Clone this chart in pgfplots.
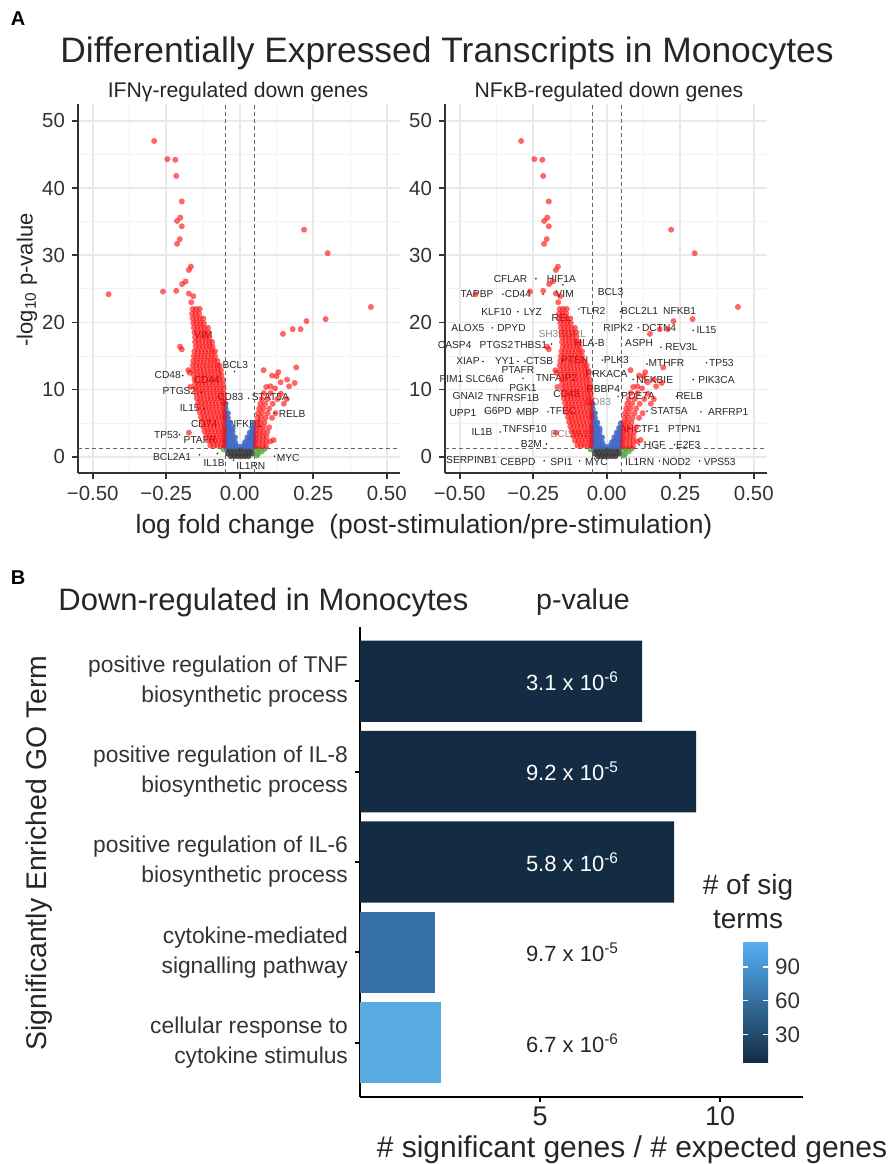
\documentclass[border=0pt]{standalone}
\usepackage{fontspec}
\setmainfont{Liberation Sans}
\usepackage{pgfplots}
\usepackage{pgfplotstable}
\pgfplotsset{compat=1.18}

\definecolor{ptred}{RGB}{255,0,0}
\definecolor{ptblue}{RGB}{65,105,200}
\definecolor{ptgray}{RGB}{60,60,60}
\definecolor{ptgreen}{RGB}{90,170,70}
\definecolor{barlow}{RGB}{19,43,67}
\definecolor{barmid}{RGB}{52,112,165}
\definecolor{barhigh}{RGB}{90,170,226}

% significant, down/up (red)
\pgfplotstableread[row sep=\\]{
x y\\
-0.291 47.0\\ -0.246 44.3\\ -0.219 44.2\\ -0.216 41.8\\ -0.197 38.0\\
-0.202 35.6\\ -0.213 35.1\\ -0.197 34.3\\ -0.204 32.4\\ -0.213 31.7\\
-0.166 28.3\\ -0.173 27.8\\ -0.184 26.1\\ -0.196 25.7\\ -0.216 24.7\\
-0.261 24.6\\ -0.446 24.2\\ -0.173 24.3\\ -0.158 23.9\\ -0.165 23.0\\
-0.203 16.4\\ -0.197 16.0\\ -0.175 12.9\\ -0.170 12.5\\ -0.173 3.6\\ -0.168 10.4\\
-0.160 22.0\\ -0.148 22.0\\ -0.136 22.0\\
-0.162 21.3\\ -0.150 21.3\\ -0.138 21.3\\
-0.160 20.6\\ -0.148 20.6\\ -0.136 20.6\\ -0.124 20.6\\
-0.158 19.9\\ -0.146 19.9\\ -0.134 19.9\\ -0.122 19.9\\
-0.156 19.2\\ -0.144 19.2\\ -0.132 19.2\\ -0.120 19.2\\ -0.108 19.2\\
-0.154 18.5\\ -0.142 18.5\\ -0.130 18.5\\ -0.118 18.5\\ -0.106 18.5\\
-0.152 17.8\\ -0.140 17.8\\ -0.128 17.8\\ -0.116 17.8\\ -0.104 17.8\\
-0.152 17.1\\ -0.140 17.1\\ -0.128 17.1\\ -0.116 17.1\\ -0.104 17.1\\ -0.094 17.1\\
-0.150 16.4\\ -0.138 16.4\\ -0.126 16.4\\ -0.114 16.4\\ -0.102 16.4\\ -0.092 16.4\\
-0.154 15.7\\ -0.142 15.7\\ -0.130 15.7\\ -0.118 15.7\\ -0.106 15.7\\ -0.094 15.7\\ -0.084 15.7\\
-0.156 15.0\\ -0.144 15.0\\ -0.132 15.0\\ -0.120 15.0\\ -0.108 15.0\\ -0.096 15.0\\ -0.084 15.0\\
-0.158 14.3\\ -0.146 14.3\\ -0.134 14.3\\ -0.122 14.3\\ -0.110 14.3\\ -0.098 14.3\\ -0.086 14.3\\ -0.076 14.3\\
-0.160 13.6\\ -0.148 13.6\\ -0.136 13.6\\ -0.124 13.6\\ -0.112 13.6\\ -0.100 13.6\\ -0.088 13.6\\ -0.076 13.6\\ -0.068 13.6\\
-0.158 12.9\\ -0.146 12.9\\ -0.134 12.9\\ -0.122 12.9\\ -0.110 12.9\\ -0.098 12.9\\ -0.086 12.9\\ -0.074 12.9\\ -0.064 12.9\\
-0.156 12.2\\ -0.144 12.2\\ -0.132 12.2\\ -0.120 12.2\\ -0.108 12.2\\ -0.096 12.2\\ -0.084 12.2\\ -0.072 12.2\\ -0.062 12.2\\
-0.154 11.5\\ -0.142 11.5\\ -0.130 11.5\\ -0.118 11.5\\ -0.106 11.5\\ -0.094 11.5\\ -0.082 11.5\\ -0.070 11.5\\ -0.058 11.5\\
-0.152 10.8\\ -0.140 10.8\\ -0.128 10.8\\ -0.116 10.8\\ -0.104 10.8\\ -0.092 10.8\\ -0.080 10.8\\ -0.068 10.8\\ -0.056 10.8\\
-0.150 10.1\\ -0.138 10.1\\ -0.126 10.1\\ -0.114 10.1\\ -0.102 10.1\\ -0.090 10.1\\ -0.078 10.1\\ -0.066 10.1\\ -0.055 10.1\\
-0.148 9.4\\ -0.136 9.4\\ -0.124 9.4\\ -0.112 9.4\\ -0.100 9.4\\ -0.088 9.4\\ -0.076 9.4\\ -0.064 9.4\\ -0.054 9.4\\
-0.146 8.7\\ -0.134 8.7\\ -0.122 8.7\\ -0.110 8.7\\ -0.098 8.7\\ -0.086 8.7\\ -0.074 8.7\\ -0.062 8.7\\ -0.053 8.7\\
-0.142 8.0\\ -0.130 8.0\\ -0.118 8.0\\ -0.106 8.0\\ -0.094 8.0\\ -0.082 8.0\\ -0.070 8.0\\ -0.058 8.0\\ -0.052 8.0\\
-0.140 7.3\\ -0.128 7.3\\ -0.116 7.3\\ -0.104 7.3\\ -0.092 7.3\\ -0.080 7.3\\ -0.068 7.3\\ -0.056 7.3\\
-0.136 6.6\\ -0.124 6.6\\ -0.112 6.6\\ -0.100 6.6\\ -0.088 6.6\\ -0.076 6.6\\ -0.064 6.6\\ -0.053 6.6\\
-0.132 5.9\\ -0.120 5.9\\ -0.108 5.9\\ -0.096 5.9\\ -0.084 5.9\\ -0.072 5.9\\ -0.060 5.9\\ -0.052 5.9\\
-0.128 5.2\\ -0.116 5.2\\ -0.104 5.2\\ -0.092 5.2\\ -0.080 5.2\\ -0.068 5.2\\ -0.056 5.2\\
-0.124 4.5\\ -0.112 4.5\\ -0.100 4.5\\ -0.088 4.5\\ -0.076 4.5\\ -0.064 4.5\\ -0.053 4.5\\
-0.120 3.8\\ -0.108 3.8\\ -0.096 3.8\\ -0.084 3.8\\ -0.072 3.8\\ -0.060 3.8\\ -0.052 3.8\\
-0.114 3.1\\ -0.102 3.1\\ -0.090 3.1\\ -0.078 3.1\\ -0.066 3.1\\ -0.055 3.1\\
-0.108 2.4\\ -0.096 2.4\\ -0.084 2.4\\ -0.072 2.4\\ -0.060 2.4\\ -0.052 2.4\\
-0.100 1.7\\ -0.088 1.7\\ -0.076 1.7\\ -0.064 1.7\\ -0.054 1.7\\
0.219 33.8\\ 0.299 30.3\\ 0.446 22.3\\ 0.292 20.5\\ 0.227 20.2\\
0.207 19.0\\ 0.180 19.0\\ 0.147 18.3\\ 0.192 13.3\\ 0.081 12.9\\
0.131 12.6\\ 0.110 12.1\\ 0.125 12.0\\ 0.161 11.5\\ 0.139 11.1\\ 0.187 11.0\\
0.168 10.5\\ 0.104 10.5\\ 0.090 10.4\\ 0.120 10.2\\ 0.115 2.5\\
0.082 9.5\\ 0.105 9.5\\ 0.140 9.4\\
0.075 8.6\\ 0.095 8.6\\ 0.128 8.6\\ 0.160 8.6\\
0.070 7.9\\ 0.086 7.9\\ 0.112 7.9\\ 0.150 7.9\\
0.066 7.2\\ 0.080 7.2\\ 0.100 7.2\\
0.062 6.5\\ 0.076 6.5\\ 0.095 6.5\\ 0.122 6.5\\
0.060 5.8\\ 0.072 5.8\\ 0.088 5.8\\ 0.110 5.8\\
0.058 5.1\\ 0.070 5.1\\ 0.084 5.1\\
0.057 4.4\\ 0.069 4.4\\ 0.081 4.4\\ 0.100 4.4\\
0.056 3.7\\ 0.068 3.7\\ 0.080 3.7\\ 0.094 3.7\\
0.055 3.0\\ 0.067 3.0\\ 0.079 3.0\\ 0.091 3.0\\
0.054 2.3\\ 0.066 2.3\\ 0.078 2.3\\ 0.090 2.3\\ 0.104 2.3\\
0.054 1.6\\ 0.066 1.6\\ 0.078 1.6\\ 0.090 1.6\\
}\redpts

% significant p, small fold change (blue)
\pgfplotstableread[row sep=\\]{
x y\\
-0.048 1.6\\ -0.048 2.3\\ -0.048 3.0\\ -0.048 3.7\\ -0.048 4.4\\ -0.048 5.1\\ -0.048 5.8\\ -0.048 6.5\\ -0.048 7.2\\ -0.048 7.9\\
-0.040 1.6\\ -0.040 2.3\\ -0.040 3.0\\ -0.040 3.7\\ -0.040 4.4\\ -0.040 5.1\\ -0.040 5.8\\ -0.040 6.5\\
-0.032 1.6\\ -0.032 2.3\\ -0.032 3.0\\ -0.032 3.7\\ -0.032 4.4\\ -0.032 5.1\\
-0.024 1.6\\ -0.024 2.3\\ -0.024 3.0\\ -0.024 3.7\\ -0.024 4.2\\
-0.016 1.6\\ -0.016 2.2\\ -0.016 2.9\\
-0.008 1.6\\ 0.010 1.6\\
0.018 1.6\\ 0.018 2.2\\
0.026 1.6\\ 0.026 2.3\\ 0.026 2.9\\
0.034 1.6\\ 0.034 2.3\\ 0.034 3.0\\ 0.034 3.6\\
0.042 1.6\\ 0.042 2.3\\ 0.042 3.0\\ 0.042 3.7\\ 0.042 4.3\\
0.048 1.6\\ 0.048 2.3\\ 0.048 3.0\\ 0.048 3.7\\ 0.048 4.4\\ 0.048 5.0\\
}\bluepts

% not significant (gray)
\pgfplotstableread[row sep=\\]{
x y\\
-0.044 1.1\\ -0.032 1.1\\ -0.020 1.1\\ -0.008 1.1\\ 0.004 1.1\\ 0.016 1.1\\ 0.028 1.1\\ 0.040 1.1\\
-0.040 0.5\\ -0.028 0.5\\ -0.016 0.5\\ -0.004 0.5\\ 0.008 0.5\\ 0.020 0.5\\ 0.032 0.5\\ 0.044 0.5\\
-0.030 0.1\\ -0.018 0.1\\ -0.006 0.1\\ 0.006 0.1\\ 0.018 0.1\\ 0.030 0.1\\
}\graypts

% large fold change, not significant (green)
\pgfplotstableread[row sep=\\]{
x y\\
0.056 1.0\\ 0.066 1.1\\ 0.075 0.8\\ 0.062 0.4\\ -0.055 1.1\\ 0.085 1.2\\ 0.058 0.2\\
}\greenpts

% labelled genes, left panel
\pgfplotstableread[row sep=\\]{
x y\\
-0.018 12.7\\ -0.194 12.1\\ -0.131 9.6\\ 0.030 8.7\\ -0.121 7.2\\ 0.118 6.5\\
-0.205 3.3\\ -0.137 0.3\\ -0.076 0.5\\ -0.021 -0.5\\ 0.118 0.1\\
}\dotsA

% labelled genes, right panel
\pgfplotstableread[row sep=\\]{
x y\\
-0.241 26.5\\ -0.149 25.6\\ -0.353 24.2\\ -0.217 24.2\\ -0.302 21.6\\ -0.094 22.0\\
0.047 21.6\\ -0.389 19.2\\ 0.108 19.2\\ 0.294 18.8\\ -0.188 16.8\\ 0.184 16.3\\
-0.421 14.2\\ -0.302 14.2\\ -0.279 14.2\\ -0.149 14.4\\ -0.015 14.4\\ 0.137 13.8\\
0.339 14.0\\ -0.285 11.7\\ 0.090 11.5\\ 0.294 11.5\\ -0.398 9.0\\ 0.039 9.0\\
0.237 9.0\\ -0.412 6.8\\ -0.305 6.7\\ -0.200 6.7\\ 0.137 6.8\\ 0.320 6.7\\
-0.362 3.7\\ -0.205 1.9\\ 0.110 1.8\\ 0.231 1.8\\ -0.213 -0.6\\ -0.092 -0.6\\
0.180 -0.6\\ 0.316 -0.6\\
}\dotsB

\pgfplotsset{
  volcano/.style={
    scale only axis, width=161pt, height=184.5pt,
    xmin=-0.55, xmax=0.545, ymin=-2.4, ymax=52.5,
    axis lines*=left, axis line style={line width=0.9pt, black!80, -},
    xtick={-0.5,-0.25,0,0.25,0.5},
    xticklabels={−0.50,−0.25,0.00,0.25,0.50},
    ytick={0,10,20,30,40,50},
    yticklabels={0,10,20,30,40,50},
    minor xtick={-0.375,-0.125,0.125,0.375},
    minor ytick={5,15,25,35,45},
    grid=both,
    major grid style={draw=black!9, line width=0.8pt},
    minor grid style={draw=black!5, line width=0.45pt},
    tick align=outside, major tick length=3pt, minor tick length=0pt,
    tick style={black!80, line width=0.8pt},
    tick label style={font=\fontsize{10.2}{12}\selectfont, text=black!80},
    clip=false,
  },
  red pts/.style={only marks, mark=*, mark size=1.5pt, color=ptred,
    mark options={fill opacity=0.6, draw opacity=0}},
  blue pts/.style={only marks, mark=*, mark size=1.5pt, color=ptblue,
    mark options={fill opacity=0.85, draw opacity=0}},
  gray pts/.style={only marks, mark=*, mark size=1.5pt, color=ptgray,
    mark options={fill opacity=0.85, draw opacity=0}},
  green pts/.style={only marks, mark=*, mark size=1.5pt, color=ptgreen,
    mark options={fill opacity=0.8, draw opacity=0}},
  lab dots/.style={only marks, mark=*, mark size=0.45pt, color=black!85,
    mark options={draw opacity=0}},
  cut/.style={black!60, line width=0.5pt, dash pattern=on 2pt off 1.5pt},
}
\tikzset{lab/.style={font=\fontsize{5.1}{6}\selectfont, text=black!85, inner sep=0pt},
  glab/.style={lab, text=black!45}}

\begin{document}
\begin{tikzpicture}
\useasboundingbox (0,0) rectangle (445pt,582pt);

% ---------- A, left volcano ----------
\begin{axis}[volcano, at={(39pt,345.5pt)}, anchor=south west]
\addplot[gray pts] table {\graypts};
\addplot[green pts] table {\greenpts};
\addplot[blue pts] table {\bluepts};
\addplot[red pts] table {\redpts};
\addplot[cut] coordinates {(-0.05,-2.4) (-0.05,52.5)};
\addplot[cut] coordinates {(0.05,-2.4) (0.05,52.5)};
\addplot[cut] coordinates {(-0.55,1.3) (0.545,1.3)};
\addplot[lab dots] table {\dotsA};
\node[lab] at (axis cs:-0.124,18.2) {VIM};
\node[lab] at (axis cs:-0.015,13.7) {BCL3};
\node[lab] at (axis cs:-0.245,12.2) {CD48};
\node[lab] at (axis cs:-0.112,11.4) {CD44};
\node[lab] at (axis cs:-0.205,9.8) {PTGS2};
\node[lab] at (axis cs:-0.032,8.9) {CD83};
\node[lab] at (axis cs:0.104,8.9) {STAT5A};
\node[lab] at (axis cs:-0.170,7.2) {IL15};
\node[lab] at (axis cs:0.178,6.4) {RELB};
\node[lab] at (axis cs:-0.121,4.9) {CD74};
\node[lab] at (axis cs:0.019,4.9) {NFKB1};
\node[lab] at (axis cs:-0.250,3.3) {TP53};
\node[lab] at (axis cs:-0.135,2.5) {PTAFR};
\node[lab] at (axis cs:-0.230,0.05) {BCL2A1};
\node[lab] at (axis cs:-0.087,-0.9) {IL1B};
\node[lab] at (axis cs:0.038,-1.3) {IL1RN};
\node[lab] at (axis cs:0.165,-0.1) {MYC};
\end{axis}

% ---------- A, right volcano ----------
\begin{axis}[volcano, at={(222.5pt,345.5pt)}, anchor=south west]
\addplot[gray pts] table {\graypts};
\addplot[green pts] table {\greenpts};
\addplot[blue pts] table {\bluepts};
\addplot[red pts] table {\redpts};
\addplot[cut] coordinates {(-0.05,-2.4) (-0.05,52.5)};
\addplot[cut] coordinates {(0.05,-2.4) (0.05,52.5)};
\addplot[cut] coordinates {(-0.55,1.3) (0.545,1.3)};
\addplot[lab dots] table {\dotsB};
\node[lab] at (axis cs:-0.327,26.5) {CFLAR};
\node[lab] at (axis cs:-0.154,26.5) {HIF1A};
\node[lab] at (axis cs:-0.441,24.2) {TAPBP};
\node[lab] at (axis cs:-0.302,24.2) {CD44};
\node[lab] at (axis cs:-0.143,24.2) {VIM};
\node[lab] at (axis cs:0.013,24.6) {BCL3};
\node[lab] at (axis cs:-0.375,21.6) {KLF10};
\node[lab] at (axis cs:-0.251,21.6) {LYZ};
\node[lab] at (axis cs:-0.154,20.7) {REL};
\node[lab] at (axis cs:-0.047,21.7) {TLR2};
\node[lab] at (axis cs:0.112,21.7) {BCL2L1};
\node[lab] at (axis cs:0.248,21.7) {NFKB1};
\node[lab] at (axis cs:-0.472,19.2) {ALOX5};
\node[lab] at (axis cs:-0.324,19.2) {DPYD};
\node[glab] at (axis cs:-0.151,18.3) {SH3BGRL};
\node[lab] at (axis cs:0.039,19.2) {RIPK2};
\node[lab] at (axis cs:0.178,19.2) {DCTN4};
\node[lab] at (axis cs:0.339,18.8) {IL15};
\node[lab] at (axis cs:-0.517,16.7) {CASP4};
\node[lab] at (axis cs:-0.375,16.7) {PTGS2};
\node[lab] at (axis cs:-0.259,16.7) {THBS1};
\node[lab] at (axis cs:-0.058,17.0) {HLA-B};
\node[lab] at (axis cs:0.110,17.0) {ASPH};
\node[lab] at (axis cs:0.254,16.3) {REV3L};
\node[lab] at (axis cs:-0.472,14.2) {XIAP};
\node[lab] at (axis cs:-0.347,14.2) {YY1};
\node[lab] at (axis cs:-0.228,14.2) {CTSB};
\node[lab] at (axis cs:-0.109,14.4) {PTEN};
\node[lab] at (axis cs:0.033,14.4) {PLK3};
\node[lab] at (axis cs:0.203,14.0) {MTHFR};
\node[lab] at (axis cs:0.390,14.0) {TP53};
\node[lab] at (axis cs:-0.302,12.9) {PTAFR};
\node[lab] at (axis cs:-0.528,11.6) {PIM1};
\node[lab] at (axis cs:-0.415,11.6) {SLC6A6};
\node[lab] at (axis cs:-0.171,11.7) {TNFAIP2};
\node[lab] at (axis cs:-0.001,12.3) {PRKACA};
\node[lab] at (axis cs:0.163,11.5) {NFKBIE};
\node[lab] at (axis cs:0.373,11.5) {PIK3CA};
\node[lab] at (axis cs:-0.285,10.2) {PGK1};
\node[lab] at (axis cs:-0.472,9.1) {GNAI2};
\node[lab] at (axis cs:-0.319,8.7) {TNFRSF1B};
\node[lab] at (axis cs:-0.137,9.3) {CD48};
\node[lab] at (axis cs:-0.012,10.1) {RBBP4};
\node[glab] at (axis cs:-0.030,8.1) {CD83};
\node[lab] at (axis cs:0.107,9.0) {PDE7A};
\node[lab] at (axis cs:0.282,9.0) {RELB};
\node[lab] at (axis cs:-0.489,6.5) {UPP1};
\node[lab] at (axis cs:-0.370,6.8) {G6PD};
\node[lab] at (axis cs:-0.268,6.7) {MBP};
\node[lab] at (axis cs:-0.149,6.8) {TFEC};
\node[lab] at (axis cs:0.212,6.8) {STAT5A};
\node[lab] at (axis cs:0.413,6.7) {ARFRP1};
\node[lab] at (axis cs:-0.424,3.7) {IL1B};
\node[lab] at (axis cs:-0.279,4.1) {TNFSF10};
\node[glab] at (axis cs:-0.126,3.4) {BCL2A1};
\node[lab] at (axis cs:0.112,4.2) {AHCTF1};
\node[lab] at (axis cs:0.265,4.2) {PTPN1};
\node[lab] at (axis cs:-0.256,1.9) {B2M};
\node[lab] at (axis cs:0.163,1.8) {HGF};
\node[lab] at (axis cs:0.277,1.8) {E2F3};
\node[lab] at (axis cs:-0.460,-0.4) {SERPINB1};
\node[lab] at (axis cs:-0.302,-0.8) {CEBPD};
\node[lab] at (axis cs:-0.154,-0.8) {SPI1};
\node[lab] at (axis cs:-0.035,-0.8) {MYC};
\node[lab] at (axis cs:0.112,-0.8) {IL1RN};
\node[lab] at (axis cs:0.237,-0.8) {NOD2};
\node[lab] at (axis cs:0.384,-0.8) {VPS53};
\end{axis}

% ---------- B, GO bar chart ----------
\begin{axis}[
  at={(180pt,33.5pt)}, anchor=south west,
  scale only axis, width=221.5pt, height=235pt,
  xmin=0, xmax=12.3, ymin=0.4, ymax=5.6,
  axis lines*=left, axis line style={line width=1.3pt, black, -},
  xtick={5,10}, xticklabels={5,10},
  ytick={1,2,3,4,5},
  yticklabels={{cellular response to\\cytokine stimulus},
               {cytokine-mediated\\signalling pathway},
               {positive regulation of IL-6\\biosynthetic process},
               {positive regulation of IL-8\\biosynthetic process},
               {positive regulation of TNF\\biosynthetic process}},
  yticklabel style={align=right, font=\fontsize{11.4}{15}\selectfont, text=black!80},
  xticklabel style={font=\fontsize{13.5}{15}\selectfont, text=black!85, yshift=1pt},
  tick align=outside, major tick length=2.5pt, tick style={black, line width=1pt},
  colormap={gg}{rgb255(0cm)=(19,43,67); rgb255(1cm)=(86,177,247)},
  colorbar, point meta min=5, point meta max=113,
  colorbar style={
    at={(parent axis.south west)}, anchor=south west, xshift=183pt, yshift=17pt,
    scale only axis, width=12.5pt, height=61pt,
    ytick={30,60,90}, yticklabels={30,60,90}, yticklabel pos=right, ytick pos=both,
    yticklabel style={font=\fontsize{11.2}{12}\selectfont, text=black!80},
    tick align=inside, major tick length=2.5pt, tick style={white, line width=0.6pt},
    axis line style={draw=none},
  },
  clip=false,
]
\addplot[xbar, bar shift=0pt, bar width=0.9, fill=barlow, draw=none] coordinates {(7.83,5) (9.33,4) (8.72,3)};
\addplot[xbar, bar shift=0pt, bar width=0.9, fill=barmid, draw=none] coordinates {(2.08,2)};
\addplot[xbar, bar shift=0pt, bar width=0.9, fill=barhigh, draw=none] coordinates {(2.25,1)};
\node[font=\fontsize{11}{12}\selectfont, text=white] at (axis cs:5.9,5) {3.1 x 10\textsuperscript{-6}};
\node[font=\fontsize{11}{12}\selectfont, text=white] at (axis cs:5.9,4) {9.2 x 10\textsuperscript{-5}};
\node[font=\fontsize{11}{12}\selectfont, text=white] at (axis cs:5.9,3) {5.8 x 10\textsuperscript{-6}};
\node[font=\fontsize{11}{12}\selectfont, text=black!85] at (axis cs:5.9,2) {9.7 x 10\textsuperscript{-5}};
\node[font=\fontsize{11}{12}\selectfont, text=black!85] at (axis cs:5.9,1) {6.7 x 10\textsuperscript{-6}};
\end{axis}

% ---------- titles and labels ----------
\node[font=\bfseries\fontsize{10}{12}\selectfont] at (9pt,572.5pt) {A};
\node[font=\fontsize{17.7}{20}\selectfont, text=black!85] at (223.5pt,555.5pt) {Differentially Expressed Transcripts in Monocytes};
\node[font=\fontsize{10.6}{12}\selectfont, text=black!85] at (119pt,536pt) {IFNγ-regulated down genes};
\node[font=\fontsize{10.6}{12}\selectfont, text=black!85] at (304.5pt,536pt) {NFκB-regulated down genes};
\node[font=\fontsize{11}{12}\selectfont, text=black!85, rotate=90] at (13.5pt,442pt) {-log\textsubscript{10} p-value};
\node[font=\fontsize{13.2}{15}\selectfont, text=black!85] at (212pt,318.5pt) {log fold change\ \ (post-stimulation/pre-stimulation)};
\node[font=\bfseries\fontsize{10}{12}\selectfont] at (9pt,293pt) {B};
\node[font=\fontsize{15.5}{18}\selectfont, text=black!85, anchor=west, inner sep=0pt] at (29pt,281pt) {Down-regulated in Monocytes};
\node[font=\fontsize{14.3}{16}\selectfont, text=black!85] at (291.5pt,281pt) {p-value};
\node[font=\fontsize{14}{16}\selectfont, text=black!85] at (374pt,138.5pt) {\# of sig};
\node[font=\fontsize{14}{16}\selectfont, text=black!85] at (374pt,122pt) {terms};
\node[font=\fontsize{14.2}{16}\selectfont, text=black!85, rotate=90] at (19.5pt,155.5pt) {Significantly Enriched GO Term};
\node[font=\fontsize{15}{17}\selectfont, text=black!85, inner sep=1pt] at (316pt,7pt) {\# significant genes / \# expected genes};
\end{tikzpicture}
\end{document}
